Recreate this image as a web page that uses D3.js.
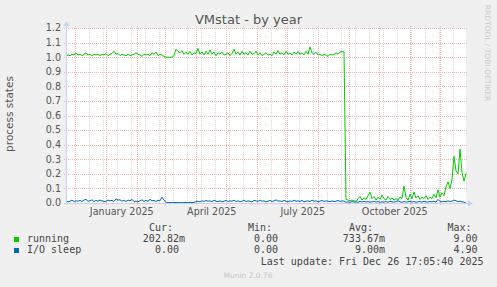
<!DOCTYPE html>
<html>
<head>
<meta charset="utf-8">
<script src="https://cdn.jsdelivr.net/npm/d3@7"></script>
<style>
  body { margin: 0; background: #F0F0F0; }
  svg { display: block; }
  text { font-family: "DejaVu Sans", sans-serif; }
  .mono { font-family: "DejaVu Sans Mono", monospace; white-space: pre; }
</style>
</head>
<body>
<svg width="497" height="287"></svg>
<script>
// one sample every 2 days, from 400 days before last update
const running = [
  1.005,1.015,1.01,1.02,1.015,1.03,1.015,1.02,1.01,1.02,
  1.03,1.015,1.02,1.01,1.02,1.015,1.02,1.01,1.02,1.015,
  1.025,1.01,1.02,1.025,1.04,1.02,1.025,1.01,1.02,1.015,
  1.01,1.02,1.01,1.015,1.02,1.03,1.02,1.015,1.005,1.02,
  1.015,1.02,1.01,1.03,1.02,1.035,1.01,1.02,1.015,1.005,
  1.0,1.0,1.0,1.0,1.01,1.055,1.04,1.03,1.045,1.02,
  1.035,1.02,1.04,1.015,1.03,1.025,1.06,1.02,1.035,1.015,
  1.04,1.02,1.05,1.02,1.035,1.01,1.03,1.02,1.035,1.015,
  1.02,1.03,1.01,1.025,1.055,1.02,1.035,1.015,1.04,1.02,
  1.03,1.015,1.04,1.02,1.025,1.04,1.015,1.03,1.01,1.02,
  1.03,1.015,1.02,1.01,1.035,1.02,1.045,1.02,1.03,1.015,
  1.04,1.02,1.03,1.015,1.035,1.02,1.04,1.02,1.03,1.015,
  1.04,1.02,1.07,1.03,1.02,1.035,1.015,1.02,1.01,1.02,
  1.015,1.005,1.02,1.015,1.02,1.03,1.02,1.035,1.04,1.035,
  0.025,0.02,0.015,0.02,0.015,0.01,0.03,0.045,0.02,0.035,
  0.025,0.05,0.075,0.03,0.045,0.02,0.04,0.025,0.055,0.03,
  0.02,0.045,0.025,0.035,0.02,0.03,0.02,0.04,0.03,0.115,
  0.04,0.02,0.06,0.03,0.075,0.035,0.05,0.025,0.04,0.03,
  0.05,0.025,0.04,0.03,0.06,0.035,0.09,0.04,0.07,0.05,
  0.11,0.145,0.1,0.16,0.32,0.22,0.2,0.37,0.21,0.15,0.2028
];
const ioSleep = [
  0.015,0.008,0.012,0.02,0.01,0.015,0.012,0.018,0.01,0.02,
  0.025,0.012,0.015,0.022,0.01,0.018,0.012,0.02,0.015,0.01,
  0.012,0.02,0.015,0.018,0.01,0.028,0.02,0.022,0.012,0.018,
  0.01,0.02,0.015,0.025,0.01,0.012,0.008,0.015,0.022,0.01,
  0.02,0.012,0.025,0.015,0.018,0.01,0.02,0.015,0.04,0.02,
  0.003,0.002,0.003,0.002,0.003,0.004,0.002,0.003,0.002,0.003,
  0.004,0.002,0.005,0.003,0.004,
  0.01,0.012,0.008,0.015,0.01,0.018,0.012,0.015,0.008,0.02,
  0.012,0.01,0.015,0.008,0.012,0.018,0.01,0.015,0.012,0.02,
  0.01,0.015,0.008,0.012,0.02,0.01,0.015,0.012,0.008,0.018,
  0.015,0.01,0.02,0.012,0.015,0.008,0.012,0.018,0.01,0.015,
  0.022,0.012,0.015,0.01,0.018,0.012,0.008,0.015,0.01,0.02,
  0.012,0.015,0.01,0.018,0.008,0.012,0.015,0.01,0.02,0.012,
  0.015,0.008,0.012,0.018,0.01,0.015,0.012,0.008,0.015,0.01,
  0.012,0.018,0.01,0.015,0.012,
  0.005,0.008,0.004,0.01,0.006,0.008,0.005,0.01,0.007,0.012,
  0.006,0.01,0.005,0.008,0.012,0.006,0.01,0.005,0.008,0.006,
  0.01,0.005,0.012,0.008,0.006,0.01,0.015,0.008,0.005,0.01,
  0.006,0.008,0.012,0.006,0.01,0.005,0.008,0.01,0.006,0.012,
  0.008,0.006,0.01,0.008,0.012,0.006,0.025,0.01,0.008,0.012,
  0.008,0.015,0.01,0.012,0.02,0.015,0.01,0.012,0.008,0.006,0.0
];

const yTicks = [0,0.1,0.2,0.3,0.4,0.5,0.6,0.7,0.8,0.9,1.0,1.1,1.2];
const labelMonths = ["January 2025","April 2025","July 2025","October 2025"];

const legendNames = ["running","I/O sleep"];
const legendColors = ["#00CC00","#0066B3"];
const curVals = [0.20282, 0];
const minVals = [0, 0];
const avgVals = [0.73367, 0.009];
const maxVals = [9.0, 4.9];

const endTime = new Date(2025, 11, 26, 17, 5, 40);
const startTime = d3.timeDay.offset(endTime, -400);

const svg = d3.select('svg');
const W = 497, H = 287;
const plotLeft = 66, plotRight = 466, plotTop = 28, plotBottom = 203;

const x = d3.scaleTime().domain([startTime, endTime]).range([plotLeft, plotRight]);
const y = d3.scaleLinear().domain([0, 1.2]).range([plotBottom, plotTop]);

svg.append('rect').attr('width', W).attr('height', H).attr('fill', '#F0F0F0');
svg.append('rect')
  .attr('x', plotLeft).attr('y', plotTop)
  .attr('width', plotRight - plotLeft).attr('height', plotBottom - plotTop)
  .attr('fill', '#FFFFFF');

// minor grid (every 2 weeks)
const firstSunday = new Date(2024, 11, 1);
const minor = d3.range(0, 400, 14)
  .map(k => d3.timeDay.offset(firstSunday, k))
  .filter(d => d < endTime);
svg.append('g').selectAll('line')
  .data(minor)
  .enter()
  .append('line')
  .attr('x1', d => Math.round(x(d)) + 0.5).attr('x2', d => Math.round(x(d)) + 0.5)
  .attr('y1', plotTop - 2).attr('y2', plotBottom)
  .attr('stroke', '#dadada')
  .attr('stroke-dasharray', '1,1');

// month grid
const months = d3.timeMonth.range(startTime, endTime);
svg.append('g').selectAll('line')
  .data(months)
  .enter()
  .append('line')
  .attr('x1', d => Math.round(x(d)) + 0.5).attr('x2', d => Math.round(x(d)) + 0.5)
  .attr('y1', plotTop - 2).attr('y2', plotBottom + 2)
  .attr('stroke', '#f0b4b4')
  .attr('stroke-dasharray', '1,1');

// horizontal grid
svg.append('g').selectAll('line')
  .data(yTicks.slice(1))
  .enter()
  .append('line')
  .attr('x1', plotLeft - 2).attr('x2', plotRight + 2)
  .attr('y1', d => Math.round(y(d)) + 0.5).attr('y2', d => Math.round(y(d)) + 0.5)
  .attr('stroke', '#f0b4b4')
  .attr('stroke-dasharray', '1,1');

// y tick labels
svg.append('g').selectAll('text')
  .data(yTicks)
  .enter()
  .append('text')
  .attr('x', 61)
  .attr('y', d => y(d))
  .attr('dy', '0.35em')
  .attr('text-anchor', 'end')
  .attr('font-size', '9.6px')
  .attr('fill', '#555')
  .text(d => d.toFixed(1));

// x labels, centered in the month
const labelDates = months.filter(m => labelMonths.includes(d3.timeFormat('%B %Y')(m)));
svg.append('g').selectAll('text')
  .data(labelDates)
  .enter()
  .append('text')
  .attr('x', d => x(d3.timeHour.offset(d, 372)))
  .attr('y', 215)
  .attr('text-anchor', 'middle')
  .attr('font-size', '9.6px')
  .attr('fill', '#555')
  .text(d => d3.timeFormat('%B %Y')(d));

// series
const dateAt = i => d3.timeDay.offset(startTime, i * 2);
const line = d3.line()
  .x((d, i) => x(dateAt(i)))
  .y(d => y(d));

[running, ioSleep].forEach((vals, k) => {
  svg.append('path')
    .datum(vals)
    .attr('fill', 'none')
    .attr('stroke', legendColors[k])
    .attr('stroke-width', 1)
    .attr('d', line);
});

// axes with arrows
const axisColor = '#c9cff5';
svg.append('line')
  .attr('x1', plotLeft - 2).attr('x2', plotRight + 4)
  .attr('y1', plotBottom + 0.5).attr('y2', plotBottom + 0.5)
  .attr('stroke', axisColor);
svg.append('line')
  .attr('x1', plotLeft + 0.5).attr('x2', plotLeft + 0.5)
  .attr('y1', plotBottom + 2).attr('y2', plotTop - 4)
  .attr('stroke', axisColor);
svg.append('path')
  .attr('d', `M${plotRight + 2},${plotBottom - 2.5} L${plotRight + 7},${plotBottom + 0.5} L${plotRight + 2},${plotBottom + 3.5} Z`)
  .attr('fill', axisColor);
svg.append('path')
  .attr('d', `M${plotLeft - 2.5},${plotTop - 2} L${plotLeft + 0.5},${plotTop - 7} L${plotLeft + 3.5},${plotTop - 2} Z`)
  .attr('fill', axisColor);

// title and side texts
svg.append('text')
  .attr('x', 248.5).attr('y', 24)
  .attr('text-anchor', 'middle')
  .attr('font-size', '13px')
  .attr('fill', '#555')
  .text('VMstat - by year');

svg.append('text')
  .attr('transform', 'translate(12.5,114) rotate(-90)')
  .attr('text-anchor', 'middle')
  .attr('font-size', '10.5px')
  .attr('fill', '#555')
  .text('process states');

svg.append('text')
  .attr('transform', 'translate(485,53) rotate(90)')
  .attr('text-anchor', 'middle')
  .attr('font-size', '7.5px')
  .attr('fill', '#c8c8c8')
  .text('RRDTOOL / TOBI OETIKER');

// legend
function fmt(v) {
  if (v !== 0 && Math.abs(v) < 1) return (v * 1000).toFixed(2) + 'm';
  return v.toFixed(2) + ' ';
}
const colRight = [185, 284, 385, 483.5];
const headers = ['Cur:', 'Min:', 'Avg:', 'Max:'];
const cols = [curVals, minVals, avgVals, maxVals];

const legend = svg.append('g').attr('class', 'mono').attr('font-size', '10px').attr('fill', '#444');

legend.selectAll('text.hdr')
  .data(headers)
  .enter()
  .append('text')
  .attr('class', 'mono hdr')
  .attr('x', (d, i) => colRight[i] - 12)
  .attr('y', 231)
  .attr('text-anchor', 'end')
  .text(d => d);

legendNames.forEach((name, r) => {
  const yy = 242 + r * 11;
  legend.append('rect')
    .attr('x', 14).attr('y', yy - 5)
    .attr('width', 5).attr('height', 5)
    .attr('fill', legendColors[r]);
  legend.append('text')
    .attr('class', 'mono')
    .attr('x', 27).attr('y', yy)
    .text(name);
  cols.forEach((vals, c) => {
    legend.append('text')
      .attr('class', 'mono')
      .attr('x', colRight[c]).attr('y', yy)
      .attr('text-anchor', 'end')
      .text(fmt(vals[r]));
  });
});

legend.append('text')
  .attr('class', 'mono')
  .attr('x', colRight[3]).attr('y', 265)
  .attr('text-anchor', 'end')
  .text('Last update: Fri Dec 26 17:05:40 2025');

svg.append('text')
  .attr('x', 248).attr('y', 278)
  .attr('text-anchor', 'middle')
  .attr('font-size', '7.5px')
  .attr('fill', '#c4c4c4')
  .text('Munin 2.0.76');
</script>
</body>
</html>
